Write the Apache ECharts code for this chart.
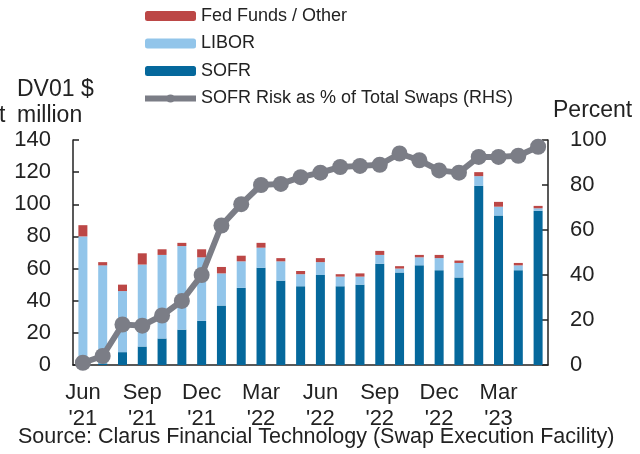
<!DOCTYPE html>
<html>
<head>
<meta charset="utf-8">
<script src="https://cdn.jsdelivr.net/npm/echarts@6/dist/echarts.min.js"></script>
<style>
  html, body { margin: 0; padding: 0; background: #fff; }
  #chart { width: 640px; height: 454px; }
</style>
</head>
<body>
<div id="chart"></div>
<script>
// monthly data, Jun 2021 - May 2023
var months = ["Jun '21","Jul '21","Aug '21","Sep '21","Oct '21","Nov '21","Dec '21",
  "Jan '22","Feb '22","Mar '22","Apr '22","May '22","Jun '22","Jul '22","Aug '22",
  "Sep '22","Oct '22","Nov '22","Dec '22","Jan '23","Feb '23","Mar '23","Apr '23","May '23"];
var sofr  = [0, 1, 8, 11.5, 16.5, 22, 27.5, 37, 48, 60.5, 52.5, 49, 56, 49, 50, 63, 57.5, 62, 59, 54.5, 111.5, 93, 59, 96];
var libor = [80, 61, 38, 51, 52, 52, 39.5, 20, 16.5, 12.5, 12, 7.5, 8, 6, 5, 5.5, 2.5, 5, 7.5, 9, 6, 5.5, 3, 1.5];
var fedFunds = [7, 2, 4, 7, 3.5, 2, 5, 4, 3.5, 3, 2, 2, 2.5, 1.5, 2, 2.5, 1.5, 1.5, 2, 1.5, 2.5, 3, 1.5, 1.5];
var sofrShare = [1, 4, 18, 17.5, 22, 28.5, 40, 62, 71.5, 80, 80.5, 83.5, 85.5, 88, 88.5, 89, 94, 91, 86.5, 85.5, 92.5, 92.5, 93, 97];

var font = 'Liberation Sans';
var axisColor = '#222';
var lineColor = '#7b7d86';

var myChart = echarts.init(document.getElementById('chart'));
myChart.setOption({
  animation: false,
  textStyle: { fontFamily: font },
  grid: { left: 73, right: 92, top: 140, bottom: 89 },
  legend: {
    orient: 'vertical',
    left: 137,
    top: 2,
    itemWidth: 51,
    itemHeight: 10,
    itemGap: 9.5,
    textStyle: { fontSize: 18, color: '#222', fontFamily: font },
    data: ['Fed Funds / Other', 'LIBOR', 'SOFR', {
      name: 'SOFR Risk as % of Total Swaps (RHS)',
      lineStyle: { width: 6, color: lineColor },
      itemStyle: { color: lineColor }
    }]
  },
  graphic: [
    { type: 'text', left: 17, top: 77, style: { text: 'DV01 $\nmillion', font: '23px ' + font, fill: '#222', lineHeight: 26 } },
    { type: 'text', x: -1, y: 103, style: { text: 't', font: '23px ' + font, fill: '#222', lineHeight: 26 } },
    { type: 'text', left: 553, top: 99, style: { text: 'Percent', font: '23px ' + font, fill: '#222' } },
    { type: 'text', left: 18, top: 426, style: { text: 'Source: Clarus Financial Technology (Swap Execution Facility)', font: '21.5px ' + font, fill: '#222' } }
  ],
  xAxis: {
    type: 'category',
    data: months,
    axisLine: { lineStyle: { color: axisColor, width: 1.5 } },
    axisTick: { interval: 0, length: 5, lineStyle: { color: axisColor, width: 1.5 } },
    axisLabel: {
      interval: function (i) { return i % 3 === 0; },
      color: '#222',
      fontSize: 22,
      lineHeight: 26,
      margin: 15,
      formatter: function (v) { return v.replace(' ', '\n'); }
    }
  },
  yAxis: [{
    type: 'value',
    min: 0, max: 140, interval: 20,
    axisLine: { show: true, lineStyle: { color: axisColor, width: 1.5 } },
    axisTick: { show: true, inside: true, length: 6, lineStyle: { color: axisColor, width: 1.5 } },
    splitLine: { show: false },
    axisLabel: { color: '#222', fontSize: 22, margin: 22 }
  }, {
    type: 'value',
    min: 0, max: 100, interval: 20,
    position: 'right',
    axisLine: { show: true, lineStyle: { color: axisColor, width: 1.5 } },
    axisTick: { show: true, inside: true, length: 6, lineStyle: { color: axisColor, width: 1.5 } },
    splitLine: { show: false },
    axisLabel: { color: '#222', fontSize: 22, margin: 22 }
  }],
  series: [{
    name: 'SOFR',
    type: 'bar',
    stack: 'risk',
    barWidth: 9,
    itemStyle: { color: '#05689c' },
    data: sofr
  }, {
    name: 'LIBOR',
    type: 'bar',
    stack: 'risk',
    itemStyle: { color: '#92c5ea' },
    data: libor
  }, {
    name: 'Fed Funds / Other',
    type: 'bar',
    stack: 'risk',
    itemStyle: { color: '#bc4746' },
    data: fedFunds
  }, {
    name: 'SOFR Risk as % of Total Swaps (RHS)',
    type: 'line',
    yAxisIndex: 1,
    symbol: 'circle',
    symbolSize: 16,
    showAllSymbol: true,
    lineStyle: { color: lineColor, width: 6 },
    itemStyle: { color: lineColor },
    data: sofrShare
  }]
});
</script>
</body>
</html>
